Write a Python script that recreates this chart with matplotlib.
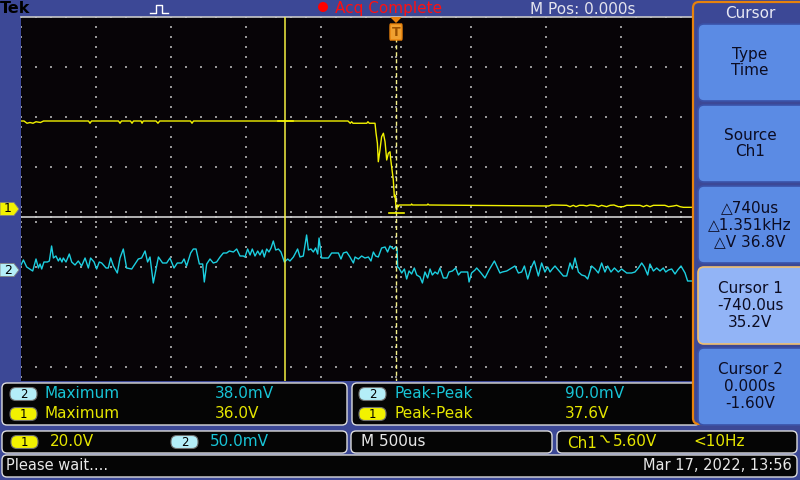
#!/usr/bin/env python3
import numpy as np
import matplotlib.pyplot as plt
import matplotlib.transforms as mtransforms
from matplotlib.patches import FancyBboxPatch, Rectangle, Polygon, Circle

# SCOPE SETTINGS
t_per_div = 500          # us / div
ch1_per_div = 20.0       # V / div
ch2_per_div = 50.0       # mV / div
ch1_pos = 0.16           # div
ch2_pos = -1.06          # div
cursor1_t, cursor1_v = -740.0, 35.2
cursor2_t, cursor2_v = 0.0, -1.60

# CH1 trace (us, V)
ch1_t = [-2500, -2480, -2460, -2440, -2420, -2400, -2370, -2350,
         -2050, -2040, -2030, -1850, -1840, -1830, -1770, -1760, -1750,
         -1700, -1693, -1685, -1600, -1587, -1575, -1370, -1360, -1350,
         -320, -305, -296, -287, -195, -187, -178, -140,
         -133, -124, -118, -107, -96, -84, -73, -62, -51, -40,
         -36, -29, -18, -11, -7, 0, 4, 9, 16, 20,
         100, 104, 110, 208, 213, 220, 1016, 1038, 1138, 1160,
         1182, 1200, 1222, 1249, 1271, 1293, 1327, 1349, 1371, 1404,
         1427, 1453, 1482, 1516, 1538, 1627, 1649, 1671, 1693, 1716,
         1793, 1816, 1849, 1871, 1893, 1916, 1982]
ch1_v = [35.2, 35.2, 34.3, 34.6, 34.3, 34.9, 34.6, 35.2,
         35.2, 34.3, 35.2, 35.2, 34.3, 35.2, 35.2, 34.3, 35.2,
         35.2, 34.3, 35.2, 35.2, 34.3, 35.2, 35.2, 34.3, 35.2,
         35.2, 34.3, 34.9, 34.3, 34.3, 34.9, 34.3, 34.3,
         30.3, 26.3, 18.9, 23.6, 28.9, 30.3, 26.9, 19.6, 22.3, 22.9,
         20.3, 16.9, 11.6, 4.9, 5.6, 0.9, -0.4, 1.6, 0.9, 1.6,
         1.6, 2.0, 1.6, 1.6, 2.0, 1.6, 1.2, 1.6, 1.47, 0.93,
         1.47, 0.93, 1.47, 1.47, 1.2, 1.6, 1.47, 0.93, 1.47, 0.93,
         1.47, 1.6, 0.93, 0.93, 1.47, 1.47, 0.93, 1.47, 0.93, 1.47,
         1.47, 0.93, 1.2, 1.47, 0.93, 0.67, 0.67]

# CH2 trace (us, mV)
ch2_t = [-2500, -2484, -2462, -2422, -2400, -2384, -2373, -2362, -2347, -2324,
         -2311, -2296, -2284, -2267, -2251, -2240, -2227, -2218, -2200, -2178,
         -2162, -2140, -2118, -2096, -2073, -2051, -2036, -2013, -1996, -1978,
         -1962, -1933, -1918, -1902, -1884, -1858, -1840, -1818, -1796, -1762,
         -1740, -1718, -1696, -1673, -1656, -1640, -1618, -1584, -1556, -1529,
         -1507, -1480, -1458, -1429, -1413, -1396, -1369, -1351, -1333, -1311,
         -1289, -1278, -1262, -1240, -1218, -1196, -1173, -1151, -1129, -1111,
         -1084, -1062, -1040, -1018, -1007,
         -989, -973, -958, -940, -922, -907, -891, -878, -862, -847,
         -833, -818, -802, -784, -767, -744, -722, -707, -684, -656,
         -640, -618, -596, -584, -567, -551, -536, -522, -513, -496,
         -473, -451, -429, -384, -367, -351, -329, -307, -284, -273,
         -251, -229, -207, -184, -167, -151, -136, -118, -96, -73,
         -56, -40, -18, -2, 7, 11, 20, 38, 56, 71,
         87, 104, 122, 138, 160, 176, 193, 211, 227, 242,
         260, 278, 293, 316, 338, 353, 376, 398, 416, 433,
         478, 487, 504, 527,
         538, 567, 593, 620, 656, 693, 709, 738, 771, 793,
         816, 838, 856, 878, 900, 922, 949, 971, 993, 1011,
         1027, 1042, 1060, 1082, 1116, 1138, 1160, 1176, 1193, 1216,
         1238, 1260, 1278, 1304, 1327, 1349, 1371, 1393, 1411, 1433,
         1456, 1482, 1504, 1538, 1571, 1593, 1616, 1638, 1656, 1678,
         1693, 1716, 1738, 1760, 1782, 1798, 1816, 1838, 1860, 1878,
         1900, 1927, 1944, 1971]
ch2_mv = [5, 10, 3, -1, 11, 2, 6, 1, 8, 8,
          9, 24, 12, 14, 9, 12, 8, 12, 8, 16,
          8, 5, 9, 4, 12, 2, 12, 8, 1, 8,
          7, 2, 2, 12, 4, -3, 12, 21, 2, 1,
          6, 11, 12, 19, 8, 13, -13, 13, 7, 7,
          12, 2, 7, 7, 11, 4, 17, 21, 21, 6,
          6, -12, 6, 11, 7, 8, 13, 17, 17, 19,
          18, 21, 14, 14, 13,
          21, 15, 21, 14, 19, 15, 20, 13, 21, 18,
          22, 29, 20, 21, 18, 8, 11, 9, 13, 21,
          13, 14, 35, 20, 21, 18, 22, 16, 32, 12,
          12, 12, 17, 17, 11, 17, 18, 13, 7, 13,
          11, 14, 12, 13, 9, 18, 14, 13, 22, 23,
          18, 24, 21, 23, 22, 3, 2, -3, 1, -9,
          -1, -4, 2, -5, -7, -13, -2, -8, 1, -5,
          -2, -4, 2, -8, -8, -2, -1, 2, -5, -2,
          -2, -12, -3, 0,
          2, -3, -8, 0, 9, -3, -2, -1, 2, 4,
          -3, -2, 4, -9, 2, 9, -6, 7, -2, 3,
          -2, 1, 4, 0, -6, -6, 7, 1, 12, -2,
          -5, -6, -9, 4, 1, -3, 7, -2, 4, -2,
          2, -2, 1, -3, -3, -2, 2, 7, 3, -5,
          6, -1, 2, -1, 2, -2, 0, 1, -4, 0,
          4, -3, -11, -11]

# READOUTS
meas_ch = ['2', '1']
meas_left = [('Maximum', '38.0mV'), ('Maximum', '36.0V')]
meas_right = [('Peak-Peak', '90.0mV'), ('Peak-Peak', '37.6V')]
menu_title = 'Cursor'
menu_items = ['Type\nTime', 'Source\nCh1', '\u25b3740us\n\u25b31.351kHz\n\u25b3V 36.8V',
              'Cursor 1\n-740.0us\n35.2V', 'Cursor 2\n0.000s\n-1.60V']
menu_selected = 3

BLUE = '#3c4896'
YEL = '#f2f200'
CYAN = '#1ccfe0'
TXT_Y = '#e6e600'
TXT_C = '#18c4d6'
ORANGE = '#e8820c'

plt.rcParams['font.family'] = ['DejaVu Sans']

fig = plt.figure(figsize=(8, 4.8), dpi=100, facecolor=BLUE)

# GRATICULE / WAVEFORMS (axes in us and divisions)
ax = fig.add_axes([21 / 800, (480 - 417) / 480, 750 / 800, 400 / 480], zorder=1)
ax.set_facecolor('#070407')
ax.set_xlim(-5 * t_per_div, 5 * t_per_div)
ax.set_ylim(-4, 4)
ax.set_xticks([])
ax.set_yticks([])
for s in ['left', 'right', 'bottom']:
    ax.spines[s].set_visible(False)
ax.spines['top'].set_color('#c8c8c8')
ax.spines['top'].set_linewidth(1.2)

minor_x = np.arange(-5 * t_per_div, 5 * t_per_div + 1, t_per_div / 5)
minor_y = np.arange(-4, 4.01, 0.2)
gx, gy = [], []
for k in range(-5, 6):
    gx += [k * t_per_div] * len(minor_y)
    gy += list(minor_y)
for k in range(-4, 5):
    gx += list(minor_x)
    gy += [k] * len(minor_x)
gx += list(minor_x) * 2
gy += [0.1] * len(minor_x) + [-0.1] * len(minor_x)
gx += [30] * len(minor_y) + [-30] * len(minor_y)
gy += list(minor_y) * 2
ax.scatter(gx, gy, s=1.0, marker='s', c='#969696', linewidths=0, zorder=1)

ax.axhline(0, color='#cfcfcf', lw=1.2, zorder=2)

ax.plot(ch2_t, np.array(ch2_mv) / ch2_per_div + ch2_pos, color=CYAN, lw=1.0, zorder=3)
ax.plot(ch1_t, np.array(ch1_v) / ch1_per_div + ch1_pos, color=YEL, lw=1.0, zorder=4)

# cursors
ax.axvline(cursor1_t, color='#f4f040', lw=1.1, zorder=5)
ax.axvline(cursor2_t, color='#f6f08a', lw=1.0, ls=(0, (3, 2)), zorder=5)
for ct, cv in [(cursor1_t, cursor1_v), (cursor2_t, cursor2_v)]:
    ax.plot([ct - 50, ct + 50], [cv / ch1_per_div + ch1_pos] * 2, color=YEL, lw=1.2, zorder=5)

# UI OVERLAY (pixel coordinates)
ui = fig.add_axes([0, 0, 1, 1], zorder=5)
ui.set_xlim(0, 800)
ui.set_ylim(480, 0)
ui.axis('off')
ui.patch.set_alpha(0)


def rbox(x0, y0, x1, y1, fc, ec, r=4, lw=1.0, z=2):
    ui.add_patch(FancyBboxPatch((x0, y0), x1 - x0, y1 - y0,
                                boxstyle=f'round,pad=0,rounding_size={r}',
                                fc=fc, ec=ec, lw=lw, zorder=z))


def badge(x, y, num, fc):
    rbox(x, y - 6.5, x + 27, y + 6.5, fc, '#707070', r=6, lw=0.8, z=4)
    ui.text(x + 13.5, y + 0.5, num, ha='center', va='center', fontsize=8.5, color='black', zorder=5)


# cover strips
ui.add_patch(Rectangle((0, 381), 800, 100, fc=BLUE, ec='none', zorder=1))
ui.add_patch(Rectangle((692, 0), 108, 430, fc=BLUE, ec='none', zorder=1))

# top bar
ui.text(0, 8.5, 'Tek', fontsize=11.5, fontweight='bold', color='black', va='center', ha='left')
ui.plot([150, 156, 156, 162, 162, 168], [13, 13, 5, 5, 13, 13], color='white', lw=1)
ui.add_patch(Circle((323, 7), 5, fc='#ff0000', ec='none'))
ui.text(335, 9, 'Acq Complete', fontsize=11, color='#ff1010', va='center', ha='left')
ui.text(530, 9, 'M Pos: 0.000s', fontsize=11, color='#e4e4ee', va='center', ha='left')

# trigger position marker
bt = mtransforms.blended_transform_factory(ax.transData, ui.transData)
ui.add_patch(Polygon([[cursor2_t - 40, 17], [cursor2_t + 40, 17], [cursor2_t, 23]],
                     closed=True, fc=ORANGE, ec='none', transform=bt, zorder=3))
ui.add_patch(FancyBboxPatch((cursor2_t - 40, 24), 80, 16, boxstyle='round,pad=0,rounding_size=3',
                            fc='#f0a030', ec=ORANGE, lw=1, transform=bt, zorder=3))
ui.text(cursor2_t, 32, 'T', transform=bt, ha='center', va='center', fontsize=9,
        fontweight='bold', color='#9a5000', zorder=4)

# channel ground markers
lt = mtransforms.blended_transform_factory(ui.transData, ax.transData)
for pos, fc, num in [(ch1_pos, YEL, '1'), (ch2_pos, '#b4eef8', '2')]:
    ui.add_patch(Polygon([[0, pos + 0.13], [14, pos + 0.13], [19, pos], [14, pos - 0.13], [0, pos - 0.13]],
                         closed=True, fc=fc, ec='#808080', lw=0.6, transform=lt, zorder=3))
    ui.text(8, pos, num, transform=lt, ha='center', va='center', fontsize=9, color='black', zorder=4)

# side menu
rbox(693, 2, 812, 424, BLUE, ORANGE, r=6, lw=1.6, z=2)
ui.text(750, 14, menu_title, fontsize=11, color='#e8e8f4', ha='center', va='center', zorder=3)
for i, label in enumerate(menu_items):
    y0 = 24 + i * 81
    sel = i == menu_selected
    rbox(698, y0, 812, y0 + 77, '#92b4f6' if sel else '#5b8be4',
         '#f0c070' if sel else '#3a52a8', r=6, lw=1.2, z=3)
    ui.text(750, y0 + 38.5, label, fontsize=11, color='#0c0c22', ha='center', va='center',
            linespacing=1.15, zorder=4)

# measurement boxes
rbox(2, 383, 347, 425, '#050505', '#dcdcdc', r=5, z=2)
rbox(352, 383, 700, 425, '#050505', '#dcdcdc', r=5, z=1.5)
for i, ((name, val), (name2, val2)) in enumerate(zip(meas_left, meas_right)):
    y = 394 + i * 20
    col = TXT_C if meas_ch[i] == '2' else TXT_Y
    fc = '#b4eef8' if meas_ch[i] == '2' else YEL
    badge(10, y, meas_ch[i], fc)
    ui.text(45, y, name, fontsize=11, color=col, va='center', zorder=4)
    ui.text(215, y, val, fontsize=11, color=col, va='center', zorder=4)
    badge(359, y, meas_ch[i], fc)
    ui.text(395, y, name2, fontsize=11, color=col, va='center', zorder=1.8)
    ui.text(565, y, val2, fontsize=11, color=col, va='center', zorder=1.8)

# channel / timebase / trigger readouts
rbox(2, 431, 347, 453, '#050505', '#dcdcdc', r=5)
badge(11, 442, '1', YEL)
ui.text(50, 442, '20.0V', fontsize=11, color=TXT_Y, va='center', zorder=4)
badge(171, 442, '2', '#b4eef8')
ui.text(210, 442, '50.0mV', fontsize=11, color=TXT_C, va='center', zorder=4)

rbox(351, 431, 552, 453, '#050505', '#dcdcdc', r=5)
ui.text(361, 442, 'M 500us', fontsize=11, color='#e8e8e8', va='center', zorder=4)

rbox(557, 431, 797, 453, '#050505', '#dcdcdc', r=5)
ui.text(567, 443, 'Ch1', fontsize=11, color=TXT_Y, va='center', zorder=4)
ui.plot([601, 603, 607, 609], [436, 436, 442, 442], color=TXT_Y, lw=1, zorder=4)
ui.text(613, 442, '5.60V', fontsize=11, color=TXT_Y, va='center', zorder=4)
ui.text(693, 442, '<10Hz', fontsize=11, color=TXT_Y, va='center', zorder=4)

rbox(2, 455, 797, 477, '#050505', '#dcdcdc', r=5)
ui.text(6, 466, 'Please wait....', fontsize=10.5, color='#e8e8e8', va='center', zorder=4)
ui.text(792, 466, 'Mar 17, 2022, 13:56', fontsize=10.5, color='#e8e8e8', va='center', ha='right', zorder=4)

plt.savefig('out.png', dpi=100, facecolor=BLUE)
